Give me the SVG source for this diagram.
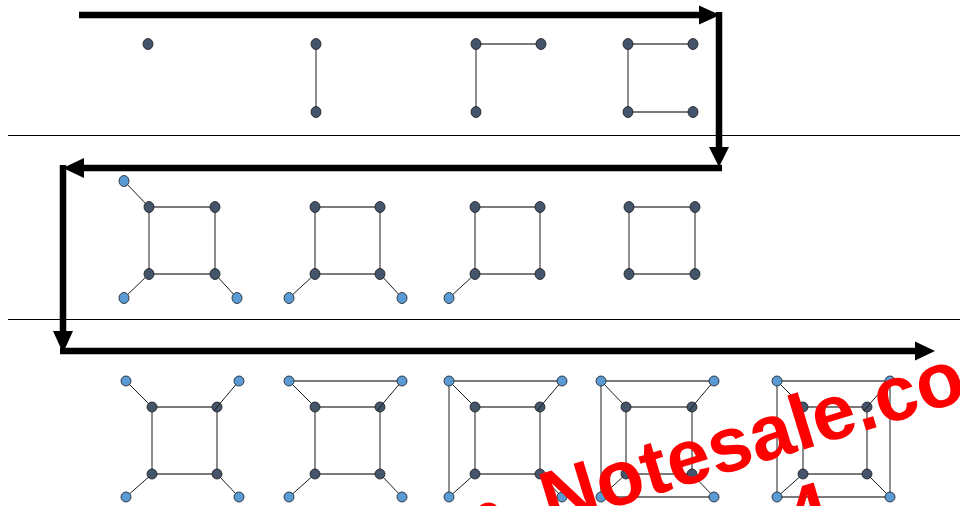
<svg xmlns="http://www.w3.org/2000/svg" width="960" height="506" viewBox="0 0 960 506">
<style>
.d{fill:#44546A;stroke:#1a1a1a;stroke-width:0.8}
.b{fill:#5B9BD5;stroke:#1a1a1a;stroke-width:0.8}
.eg{stroke:#7a7a7a;stroke-width:2;fill:none}
.ev{stroke:#6a6a6a;stroke-width:1.5;fill:none}
.ek{stroke:#1a1a1a;stroke-width:1;fill:none}
.arr{stroke:#000;stroke-width:6.5;fill:none}
.head{fill:#000}
.div{stroke:#000;stroke-width:1}
.wm{font-family:"Liberation Sans",Arial,sans-serif;font-weight:bold;font-size:78px;fill:#FF0000}
</style>
<rect width="960" height="506" fill="#fff"/>
<line class="div" x1="8" y1="135.5" x2="960" y2="135.5"/>
<line class="div" x1="8" y1="319.5" x2="960" y2="319.5"/>
<g id="connectors">
<line class="arr" x1="79" y1="15" x2="701" y2="15"/>
<polygon class="head" points="699,5.5 720,15 699,24.5"/>
<line class="arr" x1="719" y1="12" x2="719" y2="148"/>
<polygon class="head" points="709,147 729,147 719,167"/>
<line class="arr" x1="722" y1="168" x2="82" y2="168"/>
<polygon class="head" points="84,158 84,178 63,168"/>
<line class="arr" x1="63" y1="165" x2="63" y2="333"/>
<polygon class="head" points="53,331 73,331 63,353"/>
<line class="arr" x1="60" y1="351" x2="917" y2="351"/>
<polygon class="head" points="915,341.5 935,351 915,360.5"/>
</g>
<g id="r1g1">
<ellipse class="d" cx="148" cy="44" rx="5" ry="5.5"/>
</g>
<g id="r1g2">
<line class="ev" x1="316" y1="44" x2="316" y2="112"/>
<ellipse class="d" cx="316" cy="44" rx="5" ry="5.5"/>
<ellipse class="d" cx="316" cy="112" rx="5" ry="5.5"/>
</g>
<g id="r1g3">
<line class="eg" x1="476" y1="44" x2="541" y2="44"/>
<line class="ev" x1="476" y1="44" x2="476" y2="112"/>
<ellipse class="d" cx="476" cy="44" rx="5" ry="5.5"/>
<ellipse class="d" cx="541" cy="44" rx="5" ry="5.5"/>
<ellipse class="d" cx="476" cy="112" rx="5" ry="5.5"/>
</g>
<g id="r1g4">
<line class="eg" x1="628" y1="44" x2="693" y2="44"/>
<line class="ev" x1="628" y1="44" x2="628" y2="112"/>
<line class="eg" x1="628" y1="112" x2="693" y2="112"/>
<ellipse class="d" cx="628" cy="44" rx="5" ry="5.5"/>
<ellipse class="d" cx="693" cy="44" rx="5" ry="5.5"/>
<ellipse class="d" cx="628" cy="112" rx="5" ry="5.5"/>
<ellipse class="d" cx="693" cy="112" rx="5" ry="5.5"/>
</g>
<g id="r2g1">
<line class="eg" x1="149" y1="207" x2="215" y2="207"/>
<line class="eg" x1="149" y1="274" x2="215" y2="274"/>
<line class="ev" x1="149" y1="207" x2="149" y2="274"/>
<line class="ek" x1="215" y1="207" x2="215" y2="274"/>
<line class="ek" x1="124" y1="181" x2="149" y2="207"/>
<line class="ek" x1="124" y1="298" x2="149" y2="274"/>
<line class="ek" x1="237" y1="298" x2="215" y2="274"/>
<ellipse class="b" cx="124" cy="181" rx="5" ry="5.5"/>
<ellipse class="b" cx="124" cy="298" rx="5" ry="5.5"/>
<ellipse class="b" cx="237" cy="298" rx="5" ry="5.5"/>
<ellipse class="d" cx="149" cy="207" rx="5" ry="5.5"/>
<ellipse class="d" cx="215" cy="207" rx="5" ry="5.5"/>
<ellipse class="d" cx="149" cy="274" rx="5" ry="5.5"/>
<ellipse class="d" cx="215" cy="274" rx="5" ry="5.5"/>
</g>
<g id="r2g2">
<line class="eg" x1="315" y1="207" x2="380" y2="207"/>
<line class="eg" x1="315" y1="274" x2="380" y2="274"/>
<line class="ek" x1="315" y1="207" x2="315" y2="274"/>
<line class="ek" x1="380" y1="207" x2="380" y2="274"/>
<line class="ek" x1="289" y1="298" x2="315" y2="274"/>
<line class="ek" x1="402" y1="298" x2="380" y2="274"/>
<ellipse class="b" cx="289" cy="298" rx="5" ry="5.5"/>
<ellipse class="b" cx="402" cy="298" rx="5" ry="5.5"/>
<ellipse class="d" cx="315" cy="207" rx="5" ry="5.5"/>
<ellipse class="d" cx="380" cy="207" rx="5" ry="5.5"/>
<ellipse class="d" cx="315" cy="274" rx="5" ry="5.5"/>
<ellipse class="d" cx="380" cy="274" rx="5" ry="5.5"/>
</g>
<g id="r2g3">
<line class="eg" x1="475" y1="207" x2="540" y2="207"/>
<line class="eg" x1="475" y1="274" x2="540" y2="274"/>
<line class="ek" x1="475" y1="207" x2="475" y2="274"/>
<line class="ek" x1="540" y1="207" x2="540" y2="274"/>
<line class="ek" x1="449" y1="298" x2="475" y2="274"/>
<ellipse class="b" cx="449" cy="298" rx="5" ry="5.5"/>
<ellipse class="d" cx="475" cy="207" rx="5" ry="5.5"/>
<ellipse class="d" cx="540" cy="207" rx="5" ry="5.5"/>
<ellipse class="d" cx="475" cy="274" rx="5" ry="5.5"/>
<ellipse class="d" cx="540" cy="274" rx="5" ry="5.5"/>
</g>
<g id="r2g4">
<line class="eg" x1="629" y1="207" x2="695" y2="207"/>
<line class="eg" x1="629" y1="274" x2="695" y2="274"/>
<line class="ev" x1="629" y1="207" x2="629" y2="274"/>
<line class="ek" x1="695" y1="207" x2="695" y2="274"/>
<ellipse class="d" cx="629" cy="207" rx="5" ry="5.5"/>
<ellipse class="d" cx="695" cy="207" rx="5" ry="5.5"/>
<ellipse class="d" cx="629" cy="274" rx="5" ry="5.5"/>
<ellipse class="d" cx="695" cy="274" rx="5" ry="5.5"/>
</g>
<g id="r3g1">
<line class="eg" x1="152" y1="407" x2="217" y2="407"/>
<line class="eg" x1="152" y1="474" x2="217" y2="474"/>
<line class="ek" x1="152" y1="407" x2="152" y2="474"/>
<line class="ek" x1="217" y1="407" x2="217" y2="474"/>
<line class="ek" x1="126" y1="381" x2="152" y2="407"/>
<line class="ek" x1="239" y1="381" x2="217" y2="407"/>
<line class="ek" x1="126" y1="497" x2="152" y2="474"/>
<line class="ek" x1="239" y1="497" x2="217" y2="474"/>
<circle class="b" cx="126" cy="381" r="5"/>
<circle class="b" cx="239" cy="381" r="5"/>
<circle class="b" cx="126" cy="497" r="5"/>
<circle class="b" cx="239" cy="497" r="5"/>
<circle class="d" cx="152" cy="407" r="5"/>
<circle class="d" cx="217" cy="407" r="5"/>
<circle class="d" cx="152" cy="474" r="5"/>
<circle class="d" cx="217" cy="474" r="5"/>
<line class="ek" x1="220.5" y1="403" x2="214" y2="411"/>
</g>
<g id="r3g2">
<line class="eg" x1="289" y1="381" x2="402" y2="381"/>
<line class="eg" x1="315" y1="407" x2="380" y2="407"/>
<line class="eg" x1="315" y1="474" x2="380" y2="474"/>
<line class="ek" x1="315" y1="407" x2="315" y2="474"/>
<line class="ek" x1="380" y1="407" x2="380" y2="474"/>
<line class="ek" x1="289" y1="381" x2="315" y2="407"/>
<line class="ek" x1="402" y1="381" x2="380" y2="407"/>
<line class="ek" x1="289" y1="497" x2="315" y2="474"/>
<line class="ek" x1="402" y1="497" x2="380" y2="474"/>
<circle class="b" cx="289" cy="381" r="5"/>
<circle class="b" cx="402" cy="381" r="5"/>
<circle class="b" cx="289" cy="497" r="5"/>
<circle class="b" cx="402" cy="497" r="5"/>
<circle class="d" cx="315" cy="407" r="5"/>
<circle class="d" cx="380" cy="407" r="5"/>
<circle class="d" cx="315" cy="474" r="5"/>
<circle class="d" cx="380" cy="474" r="5"/>
<line class="ek" x1="383.5" y1="403" x2="377" y2="411"/>
</g>
<g id="r3g3">
<line class="eg" x1="449" y1="381" x2="562" y2="381"/>
<line class="ev" x1="449" y1="381" x2="449" y2="497"/>
<line class="eg" x1="475" y1="407" x2="540" y2="407"/>
<line class="eg" x1="475" y1="474" x2="540" y2="474"/>
<line class="ek" x1="475" y1="407" x2="475" y2="474"/>
<line class="ek" x1="540" y1="407" x2="540" y2="474"/>
<line class="ek" x1="449" y1="381" x2="475" y2="407"/>
<line class="ek" x1="562" y1="381" x2="540" y2="407"/>
<line class="ek" x1="449" y1="497" x2="475" y2="474"/>
<line class="ek" x1="562" y1="497" x2="540" y2="474"/>
<circle class="b" cx="449" cy="381" r="5"/>
<circle class="b" cx="562" cy="381" r="5"/>
<circle class="b" cx="449" cy="497" r="5"/>
<circle class="b" cx="562" cy="497" r="5"/>
<circle class="d" cx="475" cy="407" r="5"/>
<circle class="d" cx="540" cy="407" r="5"/>
<circle class="d" cx="475" cy="474" r="5"/>
<circle class="d" cx="540" cy="474" r="5"/>
<line class="ek" x1="543.5" y1="403" x2="537" y2="411"/>
</g>
<g id="r3g4">
<line class="eg" x1="601" y1="381" x2="714" y2="381"/>
<line class="ev" x1="601" y1="381" x2="601" y2="497"/>
<line class="eg" x1="601" y1="497" x2="714" y2="497"/>
<line class="eg" x1="626" y1="407" x2="692" y2="407"/>
<line class="eg" x1="626" y1="474" x2="692" y2="474"/>
<line class="ek" x1="626" y1="407" x2="626" y2="474"/>
<line class="ek" x1="692" y1="407" x2="692" y2="474"/>
<line class="ek" x1="601" y1="381" x2="626" y2="407"/>
<line class="ek" x1="714" y1="381" x2="692" y2="407"/>
<line class="ek" x1="601" y1="497" x2="626" y2="474"/>
<line class="ek" x1="714" y1="497" x2="692" y2="474"/>
<circle class="b" cx="601" cy="381" r="5"/>
<circle class="b" cx="714" cy="381" r="5"/>
<circle class="b" cx="601" cy="497" r="5"/>
<circle class="b" cx="714" cy="497" r="5"/>
<circle class="d" cx="626" cy="407" r="5"/>
<circle class="d" cx="692" cy="407" r="5"/>
<circle class="d" cx="626" cy="474" r="5"/>
<circle class="d" cx="692" cy="474" r="5"/>
<line class="ek" x1="695.5" y1="403" x2="689" y2="411"/>
</g>
<g id="r3g5">
<line class="eg" x1="777" y1="381" x2="890" y2="381"/>
<line class="ev" x1="777" y1="381" x2="777" y2="497"/>
<line class="eg" x1="777" y1="497" x2="890" y2="497"/>
<line class="ev" x1="890" y1="381" x2="890" y2="497"/>
<line class="eg" x1="803" y1="407" x2="867" y2="407"/>
<line class="eg" x1="803" y1="474" x2="867" y2="474"/>
<line class="ek" x1="803" y1="407" x2="803" y2="474"/>
<line class="ek" x1="867" y1="407" x2="867" y2="474"/>
<line class="ek" x1="777" y1="381" x2="803" y2="407"/>
<line class="ek" x1="890" y1="381" x2="867" y2="407"/>
<line class="ek" x1="777" y1="497" x2="803" y2="474"/>
<line class="ek" x1="890" y1="497" x2="867" y2="474"/>
<circle class="b" cx="777" cy="381" r="5"/>
<circle class="b" cx="890" cy="381" r="5"/>
<circle class="b" cx="777" cy="497" r="5"/>
<circle class="b" cx="890" cy="497" r="5"/>
<circle class="d" cx="803" cy="407" r="5"/>
<circle class="d" cx="867" cy="407" r="5"/>
<circle class="d" cx="803" cy="474" r="5"/>
<circle class="d" cx="867" cy="474" r="5"/>
<line class="ek" x1="870.5" y1="403" x2="864" y2="411"/>
</g>
<g id="watermark">
<text class="wm" transform="translate(550 527) rotate(-17)" x="-38" y="0" text-anchor="end">Preview from</text>
<text class="wm" transform="translate(550 527) rotate(-17)" x="0" y="0">Notesale.co.uk</text>
<text class="wm" transform="translate(596 605) rotate(-17)" x="0" y="0">Page 4</text>
</g>
</svg>
